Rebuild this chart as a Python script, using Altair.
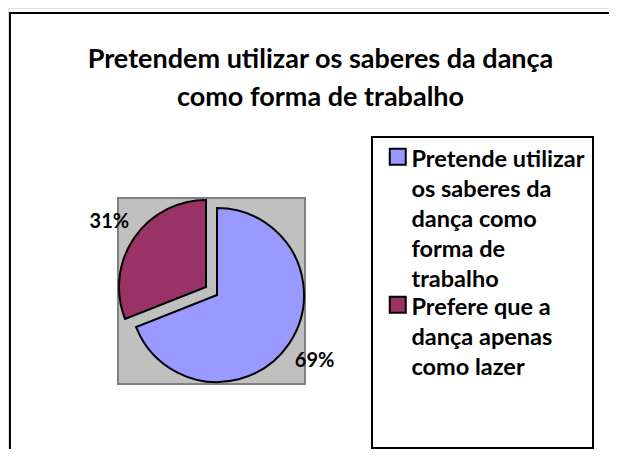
import altair as alt
import pandas as pd

# ---- data ----
categories = [
    "Pretende utilizar os saberes da dança como forma de trabalho",
    "Prefere que a dança apenas como lazer",
]
values = [69, 31]
pct_labels = ["69%", "31%"]
colors = ["#9999FF", "#993366"]
legend_lines = [
    ["Pretende utilizar", "os saberes da", "dança como", "forma de", "trabalho"],
    ["Prefere que a", "dança apenas", "como lazer"],
]
title_lines = ["Pretendem utilizar os saberes da dança", "como forma de trabalho"]

df = pd.DataFrame({"categoria": categories, "valor": values,
                   "rotulo": pct_labels, "ordem": list(range(len(categories)))})

# ---- layout constants ----
W, H = 601, 441
CX, CY, R = 209, 287, 87
EX, EY = -11, -8          # explosion of the second slice
FONT = "Lato"

theta_scale = alt.Scale(domain=[0, 100], range=[0, 6.283185307179586])


def arr(lines):
    return "[" + ",".join("'" + s + "'" for s in lines) + "]"


label_expr = "datum.label == '" + categories[0] + "' ? " + arr(legend_lines[0]) + " : " + arr(legend_lines[1])

color = alt.Color(
    "categoria:N",
    scale=alt.Scale(domain=categories, range=colors),
    legend=alt.Legend(
        title=None, orient="none", legendX=378, legendY=137,
        labelExpr=label_expr, symbolType="square", symbolSize=256,
        symbolStrokeColor="black", symbolStrokeWidth=2,
        labelFont=FONT, labelFontSize=23.5, labelFontWeight="bold",
        labelColor="black", labelLimit=400, labelBaseline="top",
        labelOffset=2, rowPadding=0, padding=0, symbolOffset=0,
    ),
)

base = (
    alt.Chart(df)
    .transform_window(fim="sum(valor)", sort=[alt.SortField("ordem")], frame=[None, 0])
    .transform_calculate(inicio="datum.fim - datum.valor", meio="datum.fim - datum.valor / 2")
)

one = pd.DataFrame({"k": [0]})

frame = alt.Chart(one).mark_rect(fill="transparent", stroke="black", strokeWidth=2, clip=True).encode(
    x=alt.value(2), x2=alt.value(W + 40), y=alt.value(5), y2=alt.value(H + 40))

plot_area = alt.Chart(one).mark_rect(fill="#C0C0C0", stroke="#808080", strokeWidth=2).encode(
    x=alt.value(110), x2=alt.value(297), y=alt.value(190), y2=alt.value(376))

legend_box = alt.Chart(one).mark_rect(fill="white", stroke="black", strokeWidth=2).encode(
    x=alt.value(364), x2=alt.value(585), y=alt.value(129), y2=alt.value(440))

arc_a = base.transform_filter(alt.datum.ordem == 0).mark_arc(
    radius=R, stroke="black", strokeWidth=2).encode(
    theta=alt.Theta("inicio:Q", scale=theta_scale), theta2="fim:Q",
    color=color, x=alt.value(CX), y=alt.value(CY))

arc_b = base.transform_filter(alt.datum.ordem == 1).mark_arc(
    radius=R, stroke="black", strokeWidth=2, xOffset=EX, yOffset=EY).encode(
    theta=alt.Theta("inicio:Q", scale=theta_scale), theta2="fim:Q",
    color=color, x=alt.value(CX), y=alt.value(CY))

txt_a = base.transform_filter(alt.datum.ordem == 0).mark_text(
    radius=118, font=FONT, fontSize=20, fontWeight="bold", color="black").encode(
    theta=alt.Theta("meio:Q", scale=theta_scale), text="rotulo:N",
    x=alt.value(CX), y=alt.value(CY))

txt_b = base.transform_filter(alt.datum.ordem == 1).mark_text(
    radius=118, font=FONT, fontSize=20, fontWeight="bold", color="black",
    xOffset=EX + 1, yOffset=EY + 1).encode(
    theta=alt.Theta("meio:Q", scale=theta_scale), text="rotulo:N",
    x=alt.value(CX), y=alt.value(CY))

chart = (
    alt.layer(frame, plot_area, legend_box, arc_a, arc_b, txt_a, txt_b)
    .properties(
        width=W, height=H,
        autosize=alt.AutoSizeParams(type="none"),
        padding=0,
        title=alt.TitleParams(
            text=title_lines, anchor="middle", frame="group", orient="top",
            font=FONT, fontSize=27, fontWeight="bold", color="black",
            lineHeight=38, baseline="top", offset=0, dx=12, dy=104,
        ),
    )
    .configure_view(stroke=None)
    .configure(background="white", style={"guide-label": {"lineHeight": 30, "dy": -9}})
)

chart.save("out.html", embed_options={"renderer": "svg", "actions": False})
